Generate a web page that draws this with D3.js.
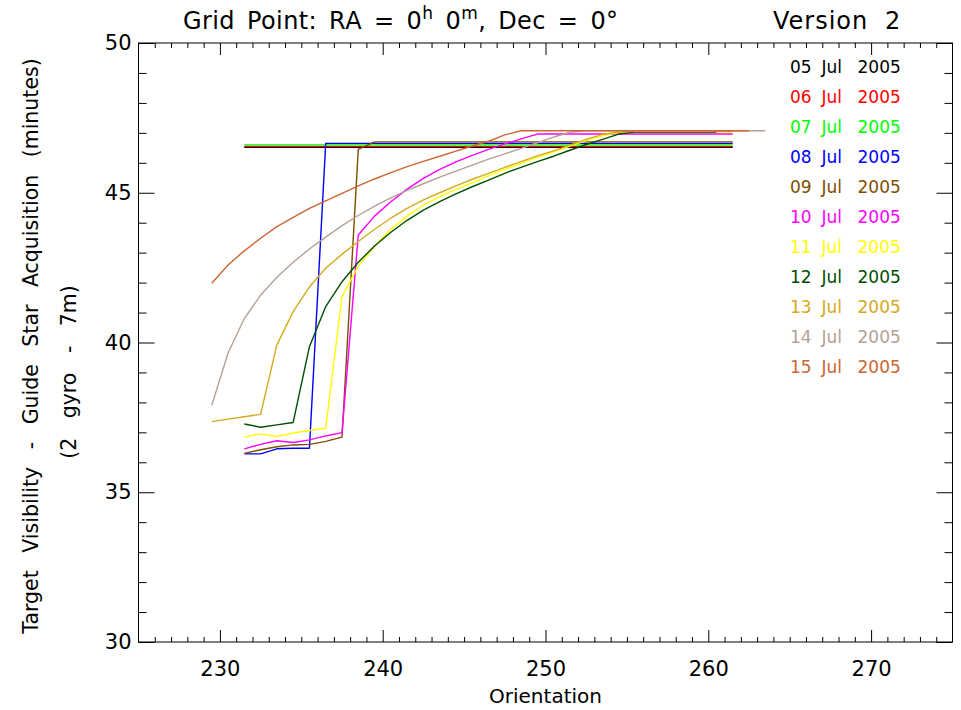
<!DOCTYPE html>
<html><head><meta charset="utf-8">
<script src="https://cdn.jsdelivr.net/npm/d3@7"></script>
<style>
body{margin:0;background:#fff}
text{font-family:"DejaVu Sans",sans-serif;fill:#000}
</style>
</head><body>
<svg id="chart" width="961" height="710"></svg>
<script>
// ---------------- data ----------------
const orientations = [229.5,230.5,231.5,232.5,233.5,234.5,235.5,236.5,237.5,238.5,239.5,240.5,241.5,242.5,243.5,244.5,245.5,246.5,247.5,248.5,249.5,250.5,251.5,252.5,253.5,254.5,255.5,256.5,257.5,258.5,259.5,260.5,261.5,262.5,263.5];

const dates = ["05 Jul 2005","06 Jul 2005","07 Jul 2005","08 Jul 2005","09 Jul 2005","10 Jul 2005","11 Jul 2005","12 Jul 2005","13 Jul 2005","14 Jul 2005","15 Jul 2005"];

const jul05 = [null,null,46.52,46.52,46.52,46.52,46.52,46.52,46.52,46.52,46.52,46.52,46.52,46.52,46.52,46.52,46.52,46.52,46.52,46.52,46.52,46.52,46.52,46.52,46.52,46.52,46.52,46.52,46.52,46.52,46.52,46.52,46.52,null,null];
const jul06 = [null,null,46.55,46.55,46.55,46.55,46.55,46.55,46.55,46.55,46.55,46.55,46.55,46.55,46.55,46.55,46.55,46.55,46.55,46.55,46.55,46.55,46.55,46.55,46.55,46.55,46.55,46.55,46.55,46.55,46.55,46.55,46.55,null,null];
const jul07 = [null,null,46.60,46.60,46.60,46.60,46.60,46.60,46.60,46.60,46.60,46.60,46.60,46.60,46.60,46.60,46.60,46.60,46.60,46.60,46.60,46.60,46.60,46.60,46.60,46.60,46.60,46.60,46.60,46.60,46.60,46.60,46.60,null,null];
const jul08 = [null,null,36.28,36.28,36.45,36.47,36.47,46.65,46.65,46.65,46.65,46.65,46.65,46.65,46.65,46.65,46.65,46.65,46.65,46.65,46.65,46.65,46.65,46.65,46.65,46.65,46.65,46.65,46.65,46.65,46.65,46.65,46.65,null,null];
const jul09 = [null,null,36.30,36.42,36.52,36.58,36.60,36.70,36.84,46.45,46.70,46.70,46.70,46.70,46.70,46.70,46.70,46.70,46.70,46.70,46.70,46.70,46.70,46.70,46.70,46.70,46.70,46.70,46.70,46.70,46.70,46.70,46.70,null,null];
const jul10 = [null,null,36.45,36.60,36.72,36.66,36.75,36.88,36.99,43.59,44.22,44.70,45.12,45.48,45.78,46.03,46.25,46.45,46.63,46.80,46.96,46.96,46.96,46.96,46.96,46.96,46.96,46.96,46.96,46.96,46.96,46.96,46.96,null,null];
const jul11 = [null,null,36.84,36.95,36.86,36.98,37.06,37.14,41.53,42.55,43.22,43.78,44.22,44.59,44.87,45.11,45.33,45.56,45.78,45.98,46.18,46.37,46.56,46.74,46.90,47.01,47.03,47.03,47.03,47.03,47.03,47.03,47.03,null,null];
const jul12 = [null,null,37.28,37.17,37.25,37.33,39.86,41.20,42.03,42.68,43.22,43.68,44.08,44.42,44.70,44.96,45.20,45.42,45.65,45.85,46.04,46.22,46.42,46.61,46.78,46.96,47.03,47.03,47.03,47.03,47.03,47.03,null,null,null];
const jul13 = [37.36,37.44,37.52,37.60,39.92,41.03,41.86,42.48,42.95,43.37,43.78,44.15,44.48,44.76,45.00,45.23,45.45,45.65,45.85,46.04,46.23,46.40,46.59,46.78,46.95,47.03,47.05,47.05,47.05,47.05,47.05,47.05,47.05,null,null];
const jul14 = [37.90,39.65,40.80,41.58,42.18,42.68,43.12,43.52,43.90,44.24,44.55,44.83,45.08,45.30,45.52,45.72,45.92,46.12,46.30,46.48,46.67,46.86,47.02,47.07,47.07,47.07,47.07,47.07,47.07,47.07,47.07,47.07,47.07,47.07,47.07];
const jul15 = [41.98,42.59,43.06,43.48,43.87,44.18,44.48,44.73,44.98,45.23,45.46,45.67,45.87,46.05,46.22,46.39,46.56,46.72,46.93,47.07,47.07,47.07,47.07,47.07,47.07,47.07,47.07,47.07,47.07,47.07,47.07,47.07,47.07,47.07,null];

const seriesValues = [jul05,jul06,jul07,jul08,jul09,jul10,jul11,jul12,jul13,jul14,jul15];

const xMajorTicks = [230,240,250,260,270];
const yMajorTicks = [30,35,40,45,50];

// ---------------- style ----------------
const seriesColors = ["#000000","#ff0000","#00ff00","#0000ff","#7f4f00","#ff00ff","#ffff00","#004f00","#d4aa1e","#b4a096","#cc6633"];

const svg = d3.select("#chart");
const L = 138.5, R = 952.5, T = 43, B = 642;
const x = d3.scaleLinear().domain([225,275]).range([L,R]);
const y = d3.scaleLinear().domain([30,50]).range([B,T]);

// frame
svg.append("rect").attr("x",L).attr("y",T).attr("width",R-L).attr("height",B-T)
  .attr("fill","none").attr("stroke","#000").attr("stroke-width",1);

const xMinor = d3.range(226,275,1).filter(v=>v%10!==0);
const yMinor = d3.range(31,50,1).filter(v=>v%5!==0);

function styleAxis(g){ g.select(".domain").remove(); g.selectAll("line").attr("stroke","#000"); }

// bottom
svg.append("g").attr("transform",`translate(0,${B})`)
  .call(d3.axisBottom(x).tickValues(xMajorTicks).tickSizeInner(-12).tickSizeOuter(0).tickPadding(19).tickFormat(d3.format("d")))
  .call(styleAxis)
  .call(g=>g.selectAll("text").attr("font-size",21).attr("font-family","DejaVu Sans"));
svg.append("g").attr("transform",`translate(0,${B})`)
  .call(d3.axisBottom(x).tickValues(xMinor).tickSizeInner(-5).tickSizeOuter(0).tickFormat(""))
  .call(styleAxis);
// top
svg.append("g").attr("transform",`translate(0,${T})`)
  .call(d3.axisTop(x).tickValues(xMajorTicks).tickSizeInner(-12).tickSizeOuter(0).tickFormat(""))
  .call(styleAxis);
svg.append("g").attr("transform",`translate(0,${T})`)
  .call(d3.axisTop(x).tickValues(xMinor).tickSizeInner(-5).tickSizeOuter(0).tickFormat(""))
  .call(styleAxis);
// left
svg.append("g").attr("transform",`translate(${L},0)`)
  .call(d3.axisLeft(y).tickValues(yMajorTicks).tickSizeInner(-16).tickSizeOuter(0).tickPadding(7).tickFormat(d3.format("d")))
  .call(styleAxis)
  .call(g=>g.selectAll("text").attr("font-size",21).attr("font-family","DejaVu Sans"));
svg.append("g").attr("transform",`translate(${L},0)`)
  .call(d3.axisLeft(y).tickValues(yMinor).tickSizeInner(-8).tickSizeOuter(0).tickFormat(""))
  .call(styleAxis);
// right
svg.append("g").attr("transform",`translate(${R},0)`)
  .call(d3.axisRight(y).tickValues(yMajorTicks).tickSizeInner(-16).tickSizeOuter(0).tickFormat(""))
  .call(styleAxis);
svg.append("g").attr("transform",`translate(${R},0)`)
  .call(d3.axisRight(y).tickValues(yMinor).tickSizeInner(-8).tickSizeOuter(0).tickFormat(""))
  .call(styleAxis);

// lines
const line = d3.line().defined(d=>d[1]!=null).x(d=>x(d[0])).y(d=>y(d[1]));
seriesValues.forEach((vals,i)=>{
  const pts = orientations.map((o,j)=>[o,vals[j]]);
  svg.append("path").datum(pts).attr("d",line)
    .attr("fill","none").attr("stroke",seriesColors[i]).attr("stroke-width",1.4)
    .attr("stroke-linejoin","round");
});

// legend
const wordX = [790, 821.5, 857.5];
dates.forEach((d,i)=>{
  const words = d.split(" ");
  const t = svg.append("text").attr("y",67+30*i).attr("dominant-baseline","central")
    .attr("font-size",17).style("fill",seriesColors[i]);
  words.forEach((w,k)=>t.append("tspan").attr("x",wordX[k]).text(w).style("fill",seriesColors[i]));
});

// title
const title = svg.append("text").attr("x",183).attr("y",29).attr("font-size",24)
  .attr("word-spacing","4px").attr("letter-spacing","0.4px");
title.append("tspan").text("Grid Point: RA = 0");
title.append("tspan").attr("font-size",17).attr("dy",-10).text("h");
title.append("tspan").attr("dy",10).text(" 0");
title.append("tspan").attr("font-size",17).attr("dy",-10).text("m");
title.append("tspan").attr("dy",10).text(", Dec = 0°");
svg.append("text").attr("x",773).attr("y",29).attr("font-size",24)
  .attr("word-spacing","8px").attr("letter-spacing","1px").text("Version 2");

// axis titles
svg.append("text").attr("x",(L+R)/2).attr("y",703).attr("text-anchor","middle").attr("font-size",20).text("Orientation");
svg.append("text").attr("transform","translate(38,346) rotate(-90)").attr("text-anchor","middle")
  .attr("font-size",20.5).attr("word-spacing","11px").text("Target Visibility - Guide Star Acquisition (minutes)");
svg.append("text").attr("transform","translate(76,372) rotate(-90)").attr("text-anchor","middle")
  .attr("font-size",20.5).attr("word-spacing","13px").text("(2 gyro - 7m)");
</script>
</body></html>
